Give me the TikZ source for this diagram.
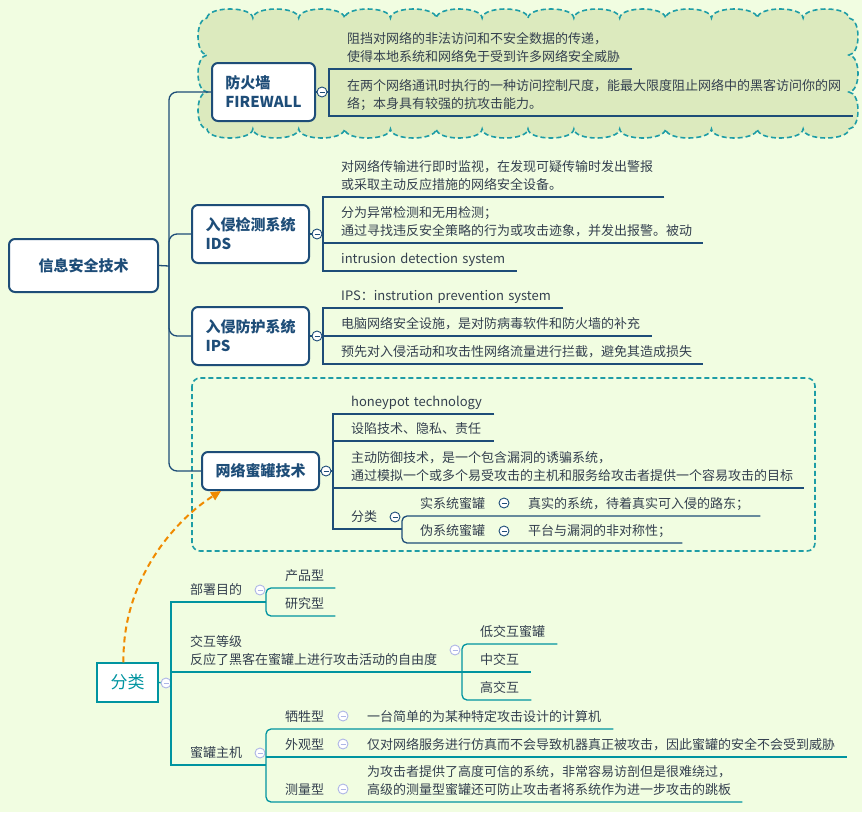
\documentclass[tikz,border=0pt]{standalone}
\usepackage{fontspec}
\setmainfont{Noto Sans CJK SC}
\usepackage{tikz}
\usetikzlibrary{arrows.meta}
\definecolor{BgGreen}{HTML}{F1FDE1}
\definecolor{CloudFill}{HTML}{DCEABE}
\definecolor{Navy}{HTML}{1E4D78}
\definecolor{Ink}{HTML}{34404F}
\definecolor{Sea}{HTML}{0094A0}
\definecolor{Dash}{HTML}{1E9DA6}
\definecolor{Amber}{HTML}{F08A00}
\definecolor{Lilac}{HTML}{AEB6E6}
\newcommand\leaffont{\fontsize{13}{18}\selectfont}
\newcommand\boxfont{\fontsize{15}{19}\selectfont\bfseries}

\begin{document}
\begin{tikzpicture}[x=1pt, y=-1pt,
    font=\leaffont,
    topic/.style={draw=Navy, line width=2pt, rounded corners=6pt, fill=white, text=Navy, font=\boxfont, align=left, inner sep=0pt},
    classbox/.style={draw=Sea, line width=1.2pt, fill=white, text=Sea, font=\fontsize{17}{20}\selectfont, inner sep=0pt},
    leaf/.style={anchor=south west, align=left, inner xsep=0pt, inner ysep=2pt, text=Ink, execute at end node=\strut},
    span/.style={text width=#1pt},
    fold/.style={circle, draw=#1, line width=0.9pt, fill=white, minimum size=10pt, inner sep=0pt,
        path picture={\draw[#1, line width=0.8pt] ([xshift=-2.5pt]path picture bounding box.center) -- ([xshift=2.5pt]path picture bounding box.center);}},
    fold/.default=Navy,
    branch/.style={draw=Navy, line width=1.3pt},
    twig/.style={draw=Sea, line width=1.3pt},
    dashframe/.style={draw=Dash, line width=1.6pt, dash pattern=on 5pt off 3pt},
    link/.style={draw=Amber, line width=2pt, dash pattern=on 6pt off 4pt, -{Triangle[length=10pt,width=9pt]}}
]
\path[use as bounding box, fill=BgGreen] (0,0) rectangle (862,812);

\draw[dashframe, fill=CloudFill] (207,18)
    \foreach \i in {1,...,14} { .. controls +(1,-12) and +(-1,-12) .. ++(45.857,0) }
    \foreach \i in {1,...,3} { .. controls +(12,1) and +(12,-1) .. ++(0,37) }
    \foreach \i in {1,...,14} { .. controls +(-1,12) and +(1,12) .. ++(-45.857,0) }
    \foreach \i in {1,...,3} { .. controls +(-12,-1) and +(-12,1) .. ++(0,-37) }
    -- cycle;
\draw[dashframe, rounded corners=8pt] (192,378) rectangle (815,551);

\node[topic, minimum width=149pt, minimum height=53pt] (root) at (83.5,265.5) {信息安全技术};
\node[topic, minimum width=103pt, minimum height=58pt] (fw) at (263.5,92) {防火墙\\FIREWALL};
\node[topic, minimum width=117pt, minimum height=58pt] (ids) at (250.5,234) {入侵检测系统\\IDS};
\node[topic, minimum width=117pt, minimum height=58pt] (ips) at (250.5,336) {入侵防护系统\\IPS};
\node[topic, minimum width=117pt, minimum height=38pt] (hp) at (260.5,471) {网络蜜罐技术};

\node[fold] (fwf) at (322,92) {};
\node[fold] (idsf) at (317,234) {};
\node[fold] (ipsf) at (317,336) {};
\node[fold] (hpf) at (326,471) {};

\coordinate (tr) at (169,266);
\coordinate (fwb) at (329,92);
\coordinate (idsb) at (323,234);
\coordinate (ipsb) at (323,336);
\coordinate (hpb) at (333,471);
\coordinate (kindb) at (402,529);

\node[leaf, span=285] (fw1) at (347,69) {阻挡对网络的非法访问和不安全数据的传递，\\使得本地系统和网络免于受到许多网络安全威胁};
\node[leaf, span=506] (fw2) at (347,116) {在两个网络通讯时执行的一种访问控制尺度，能最大限度阻止网络中的黑客访问你的网\\络；本身具有较强的抗攻击能力。};

\node[leaf, span=323] (ids1) at (341,197) {对网络传输进行即时监视，在发现可疑传输时发出警报\\或采取主动反应措施的网络安全设备。};
\node[leaf, span=362] (ids2) at (341,243) {分为异常检测和无用检测；\\通过寻找违反安全策略的行为或攻击迹象，并发出报警。被动};
\node[leaf, span=176] (ids3) at (341,271) {intrusion detection system};

\node[leaf, span=222] (ips1) at (341,308) {IPS：instrution prevention system};
\node[leaf, span=311] (ips2) at (341,336) {电脑网络安全设施，是对防病毒软件和防火墙的补充};
\node[leaf, span=362] (ips3) at (341,364) {预先对入侵活动和攻击性网络流量进行拦截，避免其造成损失};

\node[leaf, span=143] (hp1) at (351,414) {honeypot technology};
\node[leaf, span=143] (hp2) at (351,441) {设陷技术、隐私、责任};
\node[leaf, span=453] (hp3) at (351,488) {主动防御技术，是一个包含漏洞的诱骗系统，\\通过模拟一个或多个易受攻击的主机和服务给攻击者提供一个容易攻击的目标};
\node[leaf] (hp4) at (351,529) {分类};
\node[fold] (kindf) at (395,517) {};
\node[leaf] (real) at (420,516) {实系统蜜罐};
\node[fold] (realf) at (504,503) {};
\node[leaf, span=232] (reald) at (528,516) {真实的系统，待着真实可入侵的路东；};
\node[leaf] (fake) at (420,543) {伪系统蜜罐};
\node[fold] (fakef) at (504,531) {};
\node[leaf, span=154] (faked) at (528,543) {平台与漏洞的非对称性；};

\draw[branch] (root.east) -- (tr);
\draw[branch, rounded corners=8pt] (tr) |- (fw.west);
\draw[branch, rounded corners=8pt] (tr) |- (ids.west);
\draw[branch, rounded corners=8pt] (tr) |- (ips.west);
\draw[branch, rounded corners=8pt] (tr) |- (hp.west);

\draw[branch] (fw.east) -- (fwf);
\draw[branch] (fwf) -- (fwb);
\draw[branch] (fw1.south east) -- (fwb |- fw1.south) -- (fwb |- fw2.south) -- (fw2.south east);

\draw[branch] (ids.east) -- (idsf);
\draw[branch] (idsf) -- (idsb);
\draw[branch] (ids1.south east) -- (idsb |- ids1.south) -- (idsb |- ids3.south) -- (ids3.south east);
\draw[branch] (idsb |- ids2.south) -- (ids2.south east);

\draw[branch] (ips.east) -- (ipsf);
\draw[branch] (ipsf) -- (ipsb);
\draw[branch] (ips1.south east) -- (ipsb |- ips1.south) -- (ipsb |- ips3.south) -- (ips3.south east);
\draw[branch] (ipsb |- ips2.south) -- (ips2.south east);

\draw[branch] (hp.east) -- (hpf);
\draw[branch] (hpf) -- (hpb);
\draw[branch] (hp1.south east) -- (hpb |- hp1.south) -- (hpb |- hp4.south) -- (kindb);
\draw[branch] (hpb |- hp2.south) -- (hp2.south east);
\draw[branch] (hpb |- hp3.south) -- (hp3.south east);
\draw[branch, rounded corners=5pt] (reald.south east) -- (kindb |- real.south) -- (kindb |- fake.south) -- (faked.south east);

\node[classbox, minimum width=61pt, minimum height=39pt] (cls) at (127.5,682.5) {分类};
\node[fold=Lilac] (clsf) at (166,683) {};
\coordinate (clsb) at (171,683);

\node[leaf] (dep) at (190,602) {部署目的};
\node[fold=Lilac] (depf) at (260,590) {};
\coordinate (depb) at (266,602);
\node[leaf, span=50] (prod) at (285,588) {产品型};
\node[leaf, span=50] (res) at (285,616) {研究型};

\node[leaf] (lvl) at (190,672) {交互等级\\反应了黑客在蜜罐上进行攻击活动的自由度};
\node[fold=Lilac] (lvlf) at (455,650) {};
\coordinate (lvlb) at (462,672);
\node[leaf, span=77] (low) at (480,644) {低交互蜜罐};
\node[leaf, span=51] (mid) at (480,672) {中交互};
\node[leaf, span=51] (high) at (480,700) {高交互};

\node[leaf] (host) at (190,765) {蜜罐主机};
\node[fold=Lilac] (hostf) at (260,753) {};
\coordinate (hostb) at (266,765);
\node[leaf] (sac) at (285,729) {牺牲型};
\node[fold=Lilac] (sacf) at (343,716) {};
\node[leaf, span=246] (sacd) at (367,729) {一台简单的为某种特定攻击设计的计算机};
\node[leaf] (app) at (285,757) {外观型};
\node[fold=Lilac] (appf) at (343,744) {};
\node[leaf, span=480] (appd) at (367,757) {仅对网络服务进行仿真而不会导致机器真正被攻击，因此蜜罐的安全不会受到威胁};
\node[leaf] (mea) at (285,802) {测量型};
\node[fold=Lilac] (meaf) at (343,789) {};
\node[leaf, span=375] (mead) at (367,802) {为攻击者提供了高度可信的系统，非常容易访剖但是很难绕过，\\高级的测量型蜜罐还可防止攻击者将系统作为进一步攻击的跳板};

\draw[twig] (cls.east) -- (clsf);
\draw[twig] (clsf) -- (clsb);
\draw[twig] (depb) -- (clsb |- dep.south) -- (clsb |- host.south) -- (hostb);
\draw[twig] (clsb |- lvl.south) -- (lvlb);
\draw[twig, rounded corners=5pt] (prod.south east) -- (depb |- prod.south) -- (depb |- res.south) -- (res.south east);
\draw[twig, rounded corners=5pt] (low.south east) -- (lvlb |- low.south) -- (lvlb |- high.south) -- (high.south east);
\draw[twig] (lvlb) -- (mid.south east);
\draw[twig, rounded corners=5pt] (sacd.south east) -- (hostb |- sac.south) -- (hostb |- mea.south) -- (mead.south east);
\draw[twig] (hostb |- app.south) -- (appd.south east);

\draw[link] ([xshift=-4pt]cls.north) .. controls (122,580) and (175,520) .. ([xshift=20pt]hp.south west);
\end{tikzpicture}
\end{document}
